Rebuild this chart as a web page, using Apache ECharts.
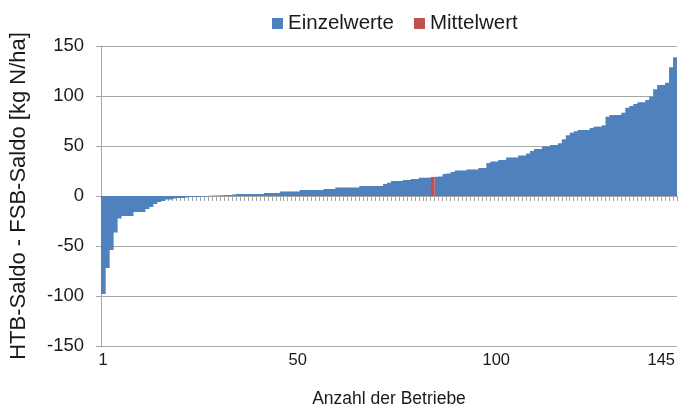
<!DOCTYPE html>
<html>
<head>
<meta charset="utf-8">
<script src="https://cdn.jsdelivr.net/npm/echarts@6/dist/echarts.min.js"></script>
<style>
  html, body { margin: 0; padding: 0; background: #fff; }
  #chart { width: 680px; height: 409px; }
</style>
</head>
<body>
<div id="chart"></div>
<script>
// Einzelwerte sorted ascending, index 83 is the Mittelwert bar
const einzelwerte = [
  -98, -72, -54, -36.5, -22.5, -20, -20, -20, -16, -16,
  -16, -13, -11, -8, -6, -5, -3.5, -3.5, -2.5, -2,
  -2, -1.5, -1, -1, -1, -0.5, -0.5, 0.3, 0.5, 0.5,
  0.8, 1, 1, 1.5, 2, 2, 2, 2, 2, 2,
  2, 3, 3, 3, 3, 4.5, 4.5, 4.5, 4.5, 4.5,
  6, 6, 6, 6, 6, 6, 7, 7, 7, 8.5,
  8.5, 8.5, 8.5, 8.5, 8.5, 10, 10, 10, 10, 10,
  10, 12, 13.3, 15, 15, 15, 16, 16, 17, 17,
  18.3, 18.3, 18.3, "-", 19.2, 19.5, 22, 22.5, 24, 25.5,
  25.5, 25.5, 26.5, 26.5, 26.5, 28, 28, 33, 34.5, 34.5,
  36, 36, 38.5, 38.5, 38.5, 40.5, 40.5, 42.5, 45, 47,
  47, 49.5, 49.5, 51, 51, 52.7, 56.7, 60.7, 63.3, 64.7,
  66, 66, 66, 68, 69.3, 69.3, 70.7, 79.3, 81, 81,
  81, 83.3, 88.3, 90, 92, 93.7, 93.7, 96, 99.3, 106.7,
  111, 111, 113.3, 128.7, 138.7
]
const mittelwert = 19
const mittelIndex = 83
const tickLabels = ["1", "50", "100", "145"]
const yTicks = [-150, -100, -50, 0, 50, 100, 150]

const categories = einzelwerte.map((v, i) => String(i + 1))
const mittelData = categories.map((c, i) => (i === mittelIndex ? mittelwert : "-"))

const font = "'Liberation Sans', Arial, sans-serif"
const textColor = "#1a1a1a"
const lineColor = "#a6a6a6"
const blue = "#4f81bd"
const red = "#c0504d"

const chart = echarts.init(document.getElementById("chart"))

const option = {
  animation: false,
  textStyle: { fontFamily: font },
  legend: {
    data: ["Einzelwerte", "Mittelwert"],
    top: 8,
    left: 267,
    icon: "rect",
    itemWidth: 11,
    itemHeight: 11,
    itemGap: 20,
    textStyle: { fontSize: 20.5, color: textColor, fontFamily: font },
  },
  grid: {
    left: 101,
    right: 3,
    top: 46,
    bottom: 63,
    outerBoundsMode: "none",
  },
  xAxis: [
    {
      type: "category",
      data: categories,
      axisLine: { onZero: true, lineStyle: { color: lineColor, width: 1 } },
      axisTick: { show: true, interval: 0, length: 5, lineStyle: { color: lineColor } },
      axisLabel: { show: false },
    },
    {
      type: "category",
      data: categories,
      position: "bottom",
      axisLine: { show: false, onZero: false },
      axisTick: { show: false },
      axisLabel: {
        interval: (idx, value) => tickLabels.includes(value),
        fontSize: 16.5,
        color: textColor,
        margin: 6,
        alignMaxLabel: "right",
      },
      name: "Anzahl der Betriebe",
      nameLocation: "middle",
      nameGap: 44,
      nameTextStyle: { fontSize: 17.5, color: textColor, fontFamily: font },
    },
  ],
  yAxis: {
    type: "value",
    min: yTicks[0],
    max: yTicks[yTicks.length - 1],
    interval: 50,
    axisLine: { show: true, lineStyle: { color: lineColor } },
    axisTick: { show: true, length: 5, lineStyle: { color: lineColor } },
    axisLabel: { fontSize: 18.5, color: textColor, margin: 17 },
    splitLine: { lineStyle: { color: lineColor } },
    name: "HTB-Saldo - FSB-Saldo [kg N/ha]",
    nameLocation: "middle",
    nameGap: 71,
    nameTextStyle: { fontSize: 22, color: textColor, fontFamily: font },
  },
  series: [
    {
      name: "Einzelwerte",
      type: "bar",
      xAxisIndex: 0,
      data: einzelwerte,
      barWidth: "118%",
      barGap: "-100%",
      itemStyle: { color: blue },
    },
    {
      name: "Mittelwert",
      type: "bar",
      xAxisIndex: 0,
      data: mittelData,
      barWidth: "100%",
      barGap: "-100%",
      itemStyle: { color: red },
    },
  ],
}

chart.setOption(option)
</script>
</body>
</html>
